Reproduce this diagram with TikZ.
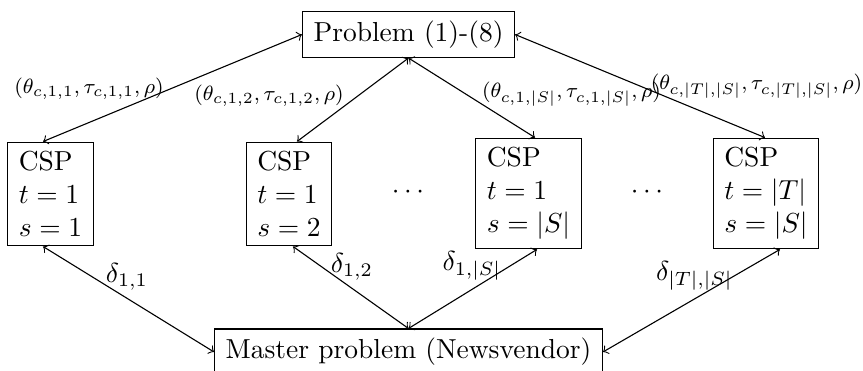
\documentclass[tikz,border=0pt]{standalone}
\usetikzlibrary{calc}
\newcommand{\shrinklab}[1]{\scalebox{0.94}{#1}}
\begin{document}
\begin{tikzpicture}[x=0.36364pt,y=-0.36364pt,
  box/.style={draw,inner xsep=4pt,inner ysep=3.33pt,line width=0.45pt},
  csp/.style={box,align=left},
  link/.style={<->,>=to,line width=0.4pt},
  lab/.style={inner sep=0pt,font=\footnotesize},
  dlab/.style={inner sep=0pt}]
\useasboundingbox (0,0) rectangle (863,371);
% main nodes
\node[box] (P) at (408.5,34.5) {Problem (1)-(8)};
\node[csp] (c1) at (50.5,194) {CSP\\$t=1$\\$s=1$};
\node[csp] (c2) at (289,194) {CSP\\$t=1$\\$s=2$};
\node[csp] (c3) at (528.5,193.5) {CSP\\$t=1$\\$s=|S|$};
\node[csp] (c4) at (766,193.5) {CSP\\$t=|T|$\\$s=|S|$};
\node[box] (M) at (408.5,352) {Master problem (Newsvendor)};
\node (d1) at (408,192) {$\cdots$};
\node (d2) at (647,192) {$\cdots$};
% connector ends
\coordinate (c1t) at ($(c1.north)+(-7.5,0)$);
\coordinate (c2t) at ($(c2.north)+(8,0)$);
\coordinate (c3t) at ($(c3.north)+(6.5,0)$);
\coordinate (c4t) at ($(c4.north)+(-1,0)$);
\coordinate (c1b) at ($(c1.south)+(-7.5,0)$);
\coordinate (c2b) at ($(c2.south)+(4,0)$);
\coordinate (c3b) at ($(c3.south)+(8.5,0)$);
\coordinate (c4b) at ($(c4.south)+(14,0)$);
% connectors
\draw[link] (P.west) -- (c1t);
\draw[link] (P.south) -- (c2t);
\draw[link] (P.south) -- (c3t);
\draw[link] (P.east) -- (c4t);
\draw[link] (c1b) -- (M.west);
\draw[link] (c2b) -- (M.north);
\draw[link] (c3b) -- (M.north);
\draw[link] (c4b) -- (M.east);
% labels
\node[lab] (l1) at (89,88.5) {\shrinklab{$(\theta_{c,1,1},\tau_{c,1,1},\rho)$}};
\node[lab] (l2) at (269,96) {\shrinklab{$(\theta_{c,1,2},\tau_{c,1,2},\rho)$}};
\node[lab] (l3) at (571.5,94) {\shrinklab{$(\theta_{c,1,|S|},\tau_{c,1,|S|},\rho)$}};
\node[lab] (l4) at (756.5,86) {\shrinklab{$(\theta_{c,|T|,|S|},\tau_{c,|T|,|S|},\rho)$}};
\node[dlab] (e1) at (127,277) {$\delta_{1,1}$};
\node[dlab] (e2) at (352,267) {$\delta_{1,2}$};
\node[dlab] (e3) at (472,266) {$\delta_{1,|S|}$};
\node[dlab] (e4) at (694.5,276) {$\delta_{|T|,|S|}$};
\end{tikzpicture}
\end{document}
